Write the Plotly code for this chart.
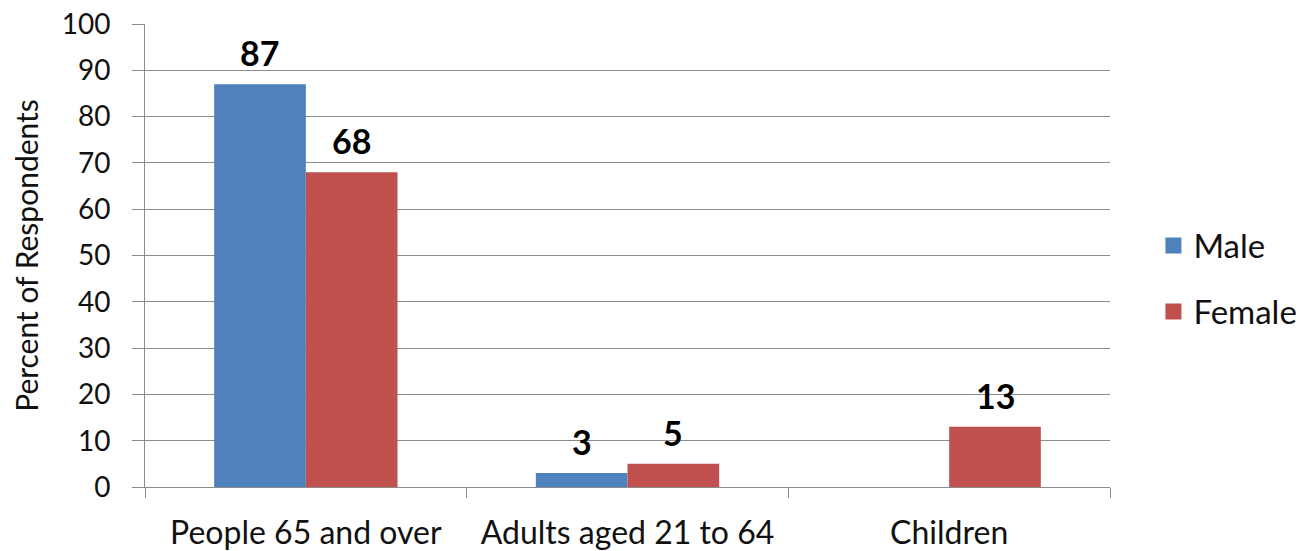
import plotly.graph_objects as go

categories = ["People 65 and over", "Adults aged 21 to 64", "Children"]
male = [87, 3, 0]
female = [68, 5, 13]
y_ticks = list(range(0, 101, 10))

MALE_COLOR = "#4F81BD"
FEMALE_COLOR = "#C0504D"
GRID = "#8C8C8C"
FONT = "Lato, 'Open Sans', sans-serif"

WIDTH, HEIGHT = 1315, 551
MARGIN = dict(l=145, r=205, t=24, b=64)
BARGAP = 0.43

# pixel width of one bar, used to centre each value label over its own bar
plot_w = WIDTH - MARGIN["l"] - MARGIN["r"]
bar_px = plot_w / len(categories) * (1 - BARGAP) / 2

series = [("Male", male, MALE_COLOR), ("Female", female, FEMALE_COLOR)]

fig = go.Figure()
for name, vals, color in series:
    fig.add_trace(go.Bar(
        x=categories, y=vals, name=name, showlegend=False,
        marker=dict(color=color, line=dict(width=0)),
    ))
    # legend entry with a larger square swatch
    fig.add_trace(go.Scatter(
        x=[None], y=[None], mode="markers", name=name, legendgroup=name,
        marker=dict(symbol="square", size=20, color=color),
    ))

# bold value labels above the bars
for i, (name, vals, color) in enumerate(series):
    shift = (i - 0.5) * bar_px
    for cat, v in zip(categories, vals):
        if not v:
            continue
        fig.add_annotation(
            x=cat, y=v, text=f"<b>{v}</b>", showarrow=False,
            xanchor="center", yanchor="bottom", xshift=shift, yshift=9,
            font=dict(family=FONT, size=34, color="#000000"),
        )

fig.update_layout(
    width=WIDTH, height=HEIGHT,
    margin=MARGIN,
    paper_bgcolor="white", plot_bgcolor="white",
    barmode="group", bargap=BARGAP, bargroupgap=0,
    font=dict(family=FONT, size=28, color="#111111"),
    legend=dict(
        x=1.045, y=0.45, xanchor="left", yanchor="middle",
        font=dict(size=33), tracegroupgap=20,
        itemsizing="trace", itemwidth=30,
    ),
    showlegend=True,
)

fig.update_xaxes(
    range=[-0.5, 2.5], showgrid=False, automargin=False,
    showline=True, linecolor=GRID, linewidth=1,
    ticks="outside", tickson="boundaries", ticklen=10, tickcolor=GRID,
    ticklabelstandoff=18,
    tickfont=dict(size=32),
)
fig.update_yaxes(
    range=[0, 100], tickvals=y_ticks, automargin=False,
    showgrid=True, gridcolor=GRID, gridwidth=1,
    showline=True, linecolor=GRID, linewidth=1,
    ticks="outside", ticklen=12, tickcolor=GRID,
    ticklabelstandoff=16,
    tickfont=dict(size=28),
    zeroline=False,
    title=dict(text="Percent of Respondents", font=dict(size=30), standoff=14),
)

fig.write_html("out.html")
